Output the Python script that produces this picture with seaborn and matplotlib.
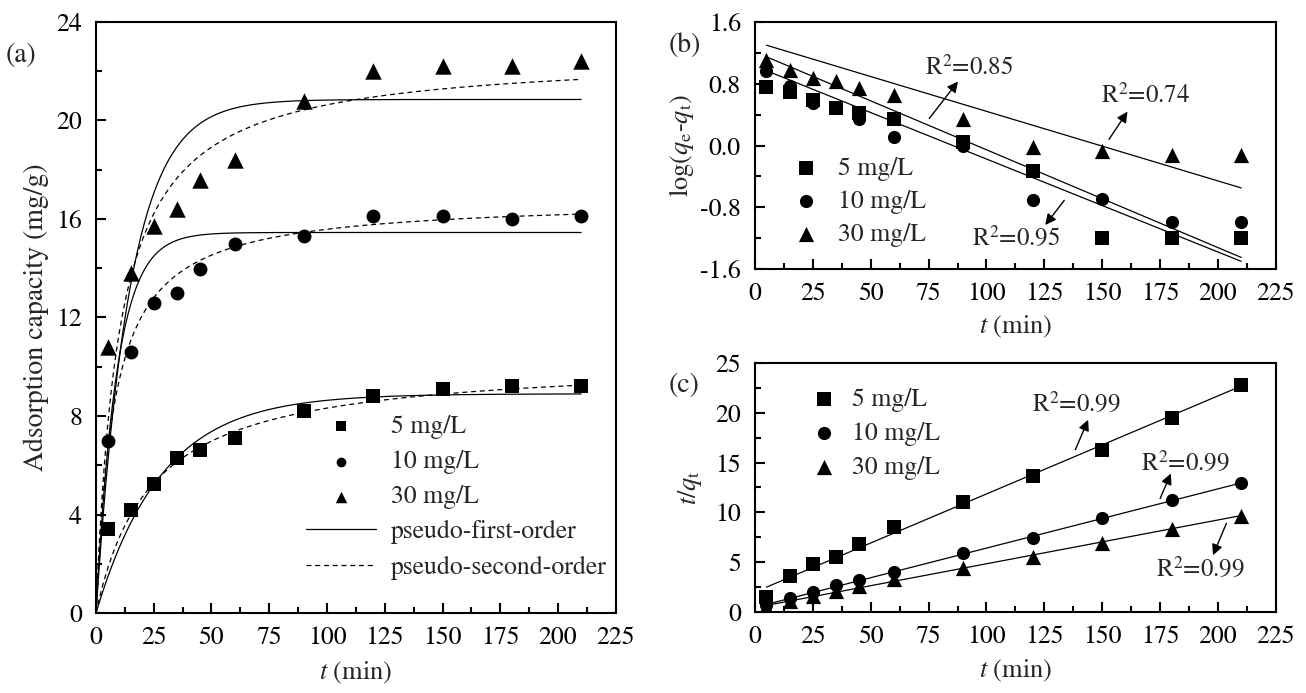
import numpy as np
import pandas as pd
import seaborn as sns
import matplotlib.pyplot as plt
from matplotlib.ticker import MultipleLocator, FuncFormatter

# time points (min)
t = [5, 15, 25, 35, 45, 60, 90, 120, 150, 180, 210]
conc = ['5 mg/L', '10 mg/L', '30 mg/L']
markers = ['s', 'o', '^']

# (a) adsorption capacity q_t (mg/g)
qt_5 = [3.4, 4.2, 5.25, 6.3, 6.6, 7.1, 8.2, 8.8, 9.1, 9.2, 9.2]
qt_10 = [7.0, 10.6, 12.6, 13.0, 13.95, 15.0, 15.3, 16.1, 16.1, 16.0, 16.1]
qt_30 = [10.8, 13.8, 15.7, 16.4, 17.6, 18.4, 20.8, 22.0, 22.2, 22.2, 22.4]

# fitted model parameters
pfo_qe = [8.9, 15.45, 20.85]
pfo_k1 = [0.0352, 0.111, 0.068]
pso_qe = [10.3, 16.8, 22.7]
pso_k2 = [0.00408, 0.00762, 0.0044]

# (b) log(qe - qt)
log_5 = [0.76, 0.69, 0.59, 0.48, 0.42, 0.35, 0.05, -0.33, -1.20, -1.20, -1.20]
log_10 = [0.97, 0.77, 0.55, 0.49, 0.35, 0.11, -0.01, -0.71, -0.69, -0.99, -0.99]
log_30 = [1.11, 0.98, 0.88, 0.83, 0.74, 0.65, 0.35, -0.02, -0.07, -0.12, -0.12]
b_icpt = [1.213, 1.03, 1.345]
b_slope = [-0.01268, -0.01205, -0.00902]

# (c) t/qt
tq_5 = [1.5, 3.6, 4.8, 5.55, 6.85, 8.5, 11.0, 13.65, 16.3, 19.5, 22.75]
tq_10 = [0.71, 1.42, 1.98, 2.69, 3.23, 4.0, 5.88, 7.45, 9.4, 11.2, 13.0]
tq_30 = [0.5, 1.1, 1.6, 2.15, 2.6, 3.3, 4.4, 5.5, 6.9, 8.3, 9.65]
c_icpt = [2.0, 0.465, 0.44]
c_slope = [0.0985, 0.0595, 0.044]

sns.set_style('ticks')
plt.rcParams['font.family'] = ['STIXGeneral', 'DejaVu Serif']
plt.rcParams['mathtext.fontset'] = 'stix'
plt.rcParams['font.size'] = 18

FS_TICK = 18.5
FS_LAB = 19
FS_LEG = 18.5
FS_NOTE = 18

fig = plt.figure(figsize=(13.06, 6.93), dpi=100)
ax_a = fig.add_axes([0.0735, 0.1154, 0.398, 0.853])
ax_b = fig.add_axes([0.578, 0.6118, 0.399, 0.3564])
ax_c = fig.add_axes([0.578, 0.1169, 0.399, 0.3593])


def style_axis(ax, xpad):
    for s in ax.spines.values():
        s.set_linewidth(1.5)
        s.set_color('black')
    ax.tick_params(which='both', direction='in', top=False, right=False,
                   width=1.5, labelsize=FS_TICK, colors='black')
    ax.tick_params(axis='x', which='both', pad=9)
    ax.tick_params(axis='y', which='both', pad=10)
    ax.tick_params(which='major', length=7)
    ax.tick_params(which='minor', length=4)
    ax.set_xlim(0, 225)
    ax.xaxis.set_major_locator(MultipleLocator(25))
    ax.xaxis.set_minor_locator(MultipleLocator(12.5))
    ax.set_xlabel('$t$ (min)', fontsize=FS_LAB, labelpad=xpad)


# ---- (a) ----
qa = [qt_5, qt_10, qt_30]
tt = np.linspace(0, 210, 400)
for i in range(3):
    sns.scatterplot(x=t, y=qa[i], marker=markers[i], color='black', s=[110, 100, 140][i],
                    edgecolor='black', linewidth=0, ax=ax_a, label=conc[i], zorder=3)
for i in range(3):
    pfo = pfo_qe[i] * (1 - np.exp(-pfo_k1[i] * tt))
    c = pso_k2[i] * pso_qe[i]
    pso = pso_qe[i] * c * tt / (1 + c * tt)
    sns.lineplot(x=tt, y=pfo, color='black', lw=0.9, ax=ax_a,
                 label='pseudo-first-order' if i == 0 else None)
    sns.lineplot(x=tt, y=pso, color='black', lw=0.9, ls=(0, (4, 3)), ax=ax_a,
                 label='pseudo-second-order' if i == 0 else None)
ax_a.set_ylim(0, 24)
ax_a.yaxis.set_major_locator(MultipleLocator(4))
ax_a.yaxis.set_minor_locator(MultipleLocator(2))
style_axis(ax_a, 7)
ax_a.set_ylabel('Adsorption capacity (mg/g)', fontsize=20, labelpad=5)
ax_a.legend(loc='upper left', bbox_to_anchor=(0.385, 0.352), frameon=False, fontsize=FS_LEG,
            handlelength=2.7, handletextpad=0.6, labelspacing=0.43, markerscale=0.7,
            borderaxespad=0)

# ---- (b) ----
lb = [log_5, log_10, log_30]
for i in range(3):
    sns.scatterplot(x=t, y=lb[i], marker=markers[i], color='black', s=[90, 90, 120][i],
                    linewidth=0, ax=ax_b, label=conc[i], zorder=3)
tl = np.array([5, 210])
for i in range(3):
    sns.lineplot(x=tl, y=b_icpt[i] + b_slope[i] * tl, color='black', lw=0.9, ax=ax_b)
ax_b.set_ylim(-1.6, 1.6)
ax_b.yaxis.set_major_locator(MultipleLocator(0.8))
ax_b.yaxis.set_minor_locator(MultipleLocator(0.4))
ax_b.yaxis.set_major_formatter(FuncFormatter(lambda v, p: '%.1f' % v))
style_axis(ax_b, 6)
ax_b.set_ylabel(r'log($q_\mathrm{e}$-$q_\mathrm{t}$)', fontsize=FS_LAB, labelpad=3)
ax_b.legend(loc='upper left', bbox_to_anchor=(0.054, 0.495), frameon=False, fontsize=FS_LEG,
            handlelength=1.0, handletextpad=0.75, labelspacing=0.35, borderaxespad=0)

arrow = dict(arrowstyle='-|>', color='black', lw=1.0, mutation_scale=16,
             shrinkA=0, shrinkB=0)
b_notes = [('R$^2$=0.85', (92.7, 1.0), (87.7, 0.83), (75.3, 0.35)),
           ('R$^2$=0.74', (168.8, 0.63), (160.9, 0.44), (152.9, 0.08)),
           ('R$^2$=0.95', (112.7, -1.2), (125.4, -1.03), (133.6, -0.71))]
for txt, pos, head, tail in b_notes:
    ax_b.text(pos[0], pos[1], txt, ha='center', va='center', fontsize=FS_NOTE)
    ax_b.annotate('', xy=head, xytext=tail, arrowprops=arrow)

# ---- (c) ----
lc = [tq_5, tq_10, tq_30]
for i in range(3):
    sns.scatterplot(x=t, y=lc[i], marker=markers[i], color='black', s=[90, 90, 120][i],
                    linewidth=0, ax=ax_c, label=conc[i], zorder=3)
for i in range(3):
    sns.lineplot(x=tl, y=c_icpt[i] + c_slope[i] * tl, color='black', lw=0.9, ax=ax_c)
ax_c.set_ylim(0, 25)
ax_c.yaxis.set_major_locator(MultipleLocator(5))
ax_c.yaxis.set_minor_locator(MultipleLocator(2.5))
style_axis(ax_c, 7)
ax_c.set_ylabel(r'$t$/$q_\mathrm{t}$', fontsize=FS_LAB, labelpad=8)
ax_c.legend(loc='upper left', bbox_to_anchor=(0.088, 0.94), frameon=False, fontsize=FS_LEG,
            handlelength=1.0, handletextpad=0.6, labelspacing=0.38, borderaxespad=0)

c_notes = [('R$^2$=0.99', (138.8, 20.8), (143.9, 19.3), (138.4, 16.3)),
           ('R$^2$=0.99', (185.8, 14.96), (179.6, 13.9), (175.0, 11.4)),
           ('R$^2$=0.99', (192.3, 4.3), (197.8, 5.7), (203.6, 8.9))]
for txt, pos, head, tail in c_notes:
    ax_c.text(pos[0], pos[1], txt, ha='center', va='center', fontsize=FS_NOTE)
    ax_c.annotate('', xy=head, xytext=tail, arrowprops=arrow)

fig.text(0.004, 0.91, '(a)', fontsize=20)
fig.text(0.512, 0.925, '(b)', fontsize=20)
fig.text(0.512, 0.435, '(c)', fontsize=20)

fig.savefig('out.png', dpi=100)
